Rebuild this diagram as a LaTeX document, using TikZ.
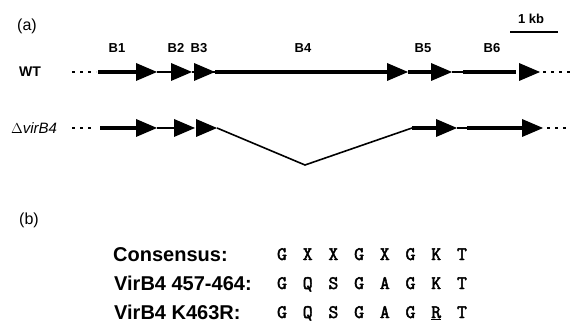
\documentclass[tikz,border=0pt]{standalone}
\usepackage{fontspec}
\setmainfont{Liberation Sans}
\newfontfamily\seqfont{Latin Modern Mono}[FakeBold=2.5]
\begin{document}
\begin{tikzpicture}[x=1pt,y=-1pt,
  lbl/.style={font=\bfseries\fontsize{13}{13}\selectfont, inner sep=0pt},
  panel/.style={font=\fontsize{16}{16}\selectfont, inner sep=0pt},
  rowlbl/.style={font=\bfseries\fontsize{14}{14}\selectfont, inner sep=0pt},
  tbl/.style={font=\bfseries\fontsize{20}{20}\selectfont, inner sep=0pt, anchor=base west},
  seq/.style={font=\seqfont\fontsize{19}{19}\selectfont, inner sep=0pt, anchor=base},
  thick4/.style={line width=4.8pt},
  mid/.style={line width=3.6pt},
  thin1/.style={line width=1.6pt},
  dots/.style={line width=2pt, dash pattern=on 3pt off 5pt},
  gene/.pic={\fill (-21,-9) -- (0,0) -- (-21,9) -- cycle;}
]
\useasboundingbox (0,0) rectangle (570,323);

% panel labels
\node[panel] (pa) at (27,26) {(a)};
\node[panel] (pb) at (29,220) {(b)};

% scale bar
\node[lbl] (kb) at (531,19) {1 kb};
\coordinate (sb1) at (510,32);
\coordinate (sb2) at (558,32);
\draw[line width=2pt] (sb1) -- (sb2);

% gene labels
\node[lbl] (lB1) at (117,48) {B1};
\node[lbl] (lB2) at (176,48) {B2};
\node[lbl] (lB3) at (199,48) {B3};
\node[lbl] (lB4) at (303,48) {B4};
\node[lbl] (lB5) at (423,48) {B5};
\node[lbl] (lB6) at (492,48) {B6};

% WT row
\node[rowlbl] (wt) at (30,72) {WT};
\coordinate (w0) at (72,72);
\coordinate (w1) at (96,72);
\coordinate (w2) at (98,72);
\coordinate (w3) at (140,72);
\coordinate (w4) at (157,72);
\coordinate (w5) at (176,72);
\coordinate (w6) at (192,72);
\coordinate (w7) at (215,72);
\coordinate (w8) at (240,72);
\coordinate (w9) at (357,72);
\coordinate (w10) at (390,72);
\coordinate (w11) at (408,72);
\coordinate (w12) at (436,72);
\coordinate (w13) at (452,72);
\coordinate (w14) at (463,72);
\coordinate (w15) at (516,72);
\coordinate (w16) at (540,72);
\coordinate (w17) at (570,72);
\draw[dots] (w0) -- (w1);
\draw[thick4] (w2) -- (w3);
\draw[thin1] (w4) -- (w5);
\draw[thin1] (w6) -- (w7);
\draw[mid] (w7) -- (w8);
\draw[thick4] (w8) -- (w9);
\draw[mid] (w9) -- (w10);
\draw[mid] (w11) -- (w12);
\draw[thin1] (w13) -- (w14);
\draw[thick4] (w14) -- (w15);
\draw[dots] (543,72) -- (w17);
\pic at (157,72) {gene};
\pic at (192,72) {gene};
\pic at (215,72) {gene};
\pic at (408,72) {gene};
\pic at (452,72) {gene};
\pic at (540,72) {gene};

% deletion row
\node[rowlbl, font=\itshape\fontsize{15}{15}\selectfont] (dl) at (34,128) {$\Delta$virB4};
\coordinate (d0) at (72,128);
\coordinate (d1) at (95,128);
\coordinate (d2) at (100,128);
\coordinate (d3) at (140,128);
\coordinate (d4) at (157,128);
\coordinate (d5) at (178,128);
\coordinate (d6) at (217,128);
\coordinate (dv) at (305,165);
\coordinate (d7) at (412,128);
\coordinate (d8) at (440,128);
\coordinate (d9) at (457,128);
\coordinate (d10) at (467,128);
\coordinate (d11) at (523,128);
\coordinate (d12) at (570,128);
\draw[dots] (d0) -- (d1);
\draw[thick4] (d2) -- (d3);
\draw[thin1] (d4) -- (d5);
\draw[line width=1.6pt, line join=miter] (d6) -- (dv) -- (d7);
\draw[thick4] (d7) -- (d8);
\draw[thin1] (d9) -- (d10);
\draw[thick4] (d10) -- (d11);
\draw[dots] (547,128) -- (d12);
\pic at (157,128) {gene};
\pic at (195,128) {gene};
\pic at (217,128) {gene};
\pic at (457,128) {gene};
\pic at (543,128) {gene};

% table (b)
\node[tbl] (t1) at (113,261) {Consensus:};
\node[tbl] (t2) at (114,290) {VirB4 457-464:};
\node[tbl] (t3) at (114,319) {VirB4 K463R:};

\foreach \c [count=\i from 0] in {G,X,X,G,X,G,K,T}
  \node[seq] (sa\i) at (282+25.7*\i,260) {\c};
\foreach \c [count=\i from 0] in {G,Q,S,G,A,G,K,T}
  \node[seq] (sb\i) at (282+25.7*\i,289) {\c};
\foreach \c [count=\i from 0] in {G,Q,S,G,A,G,\underline{R},T}
  \node[seq] (sc\i) at (282+25.7*\i,318) {\c};
\end{tikzpicture}
\end{document}
